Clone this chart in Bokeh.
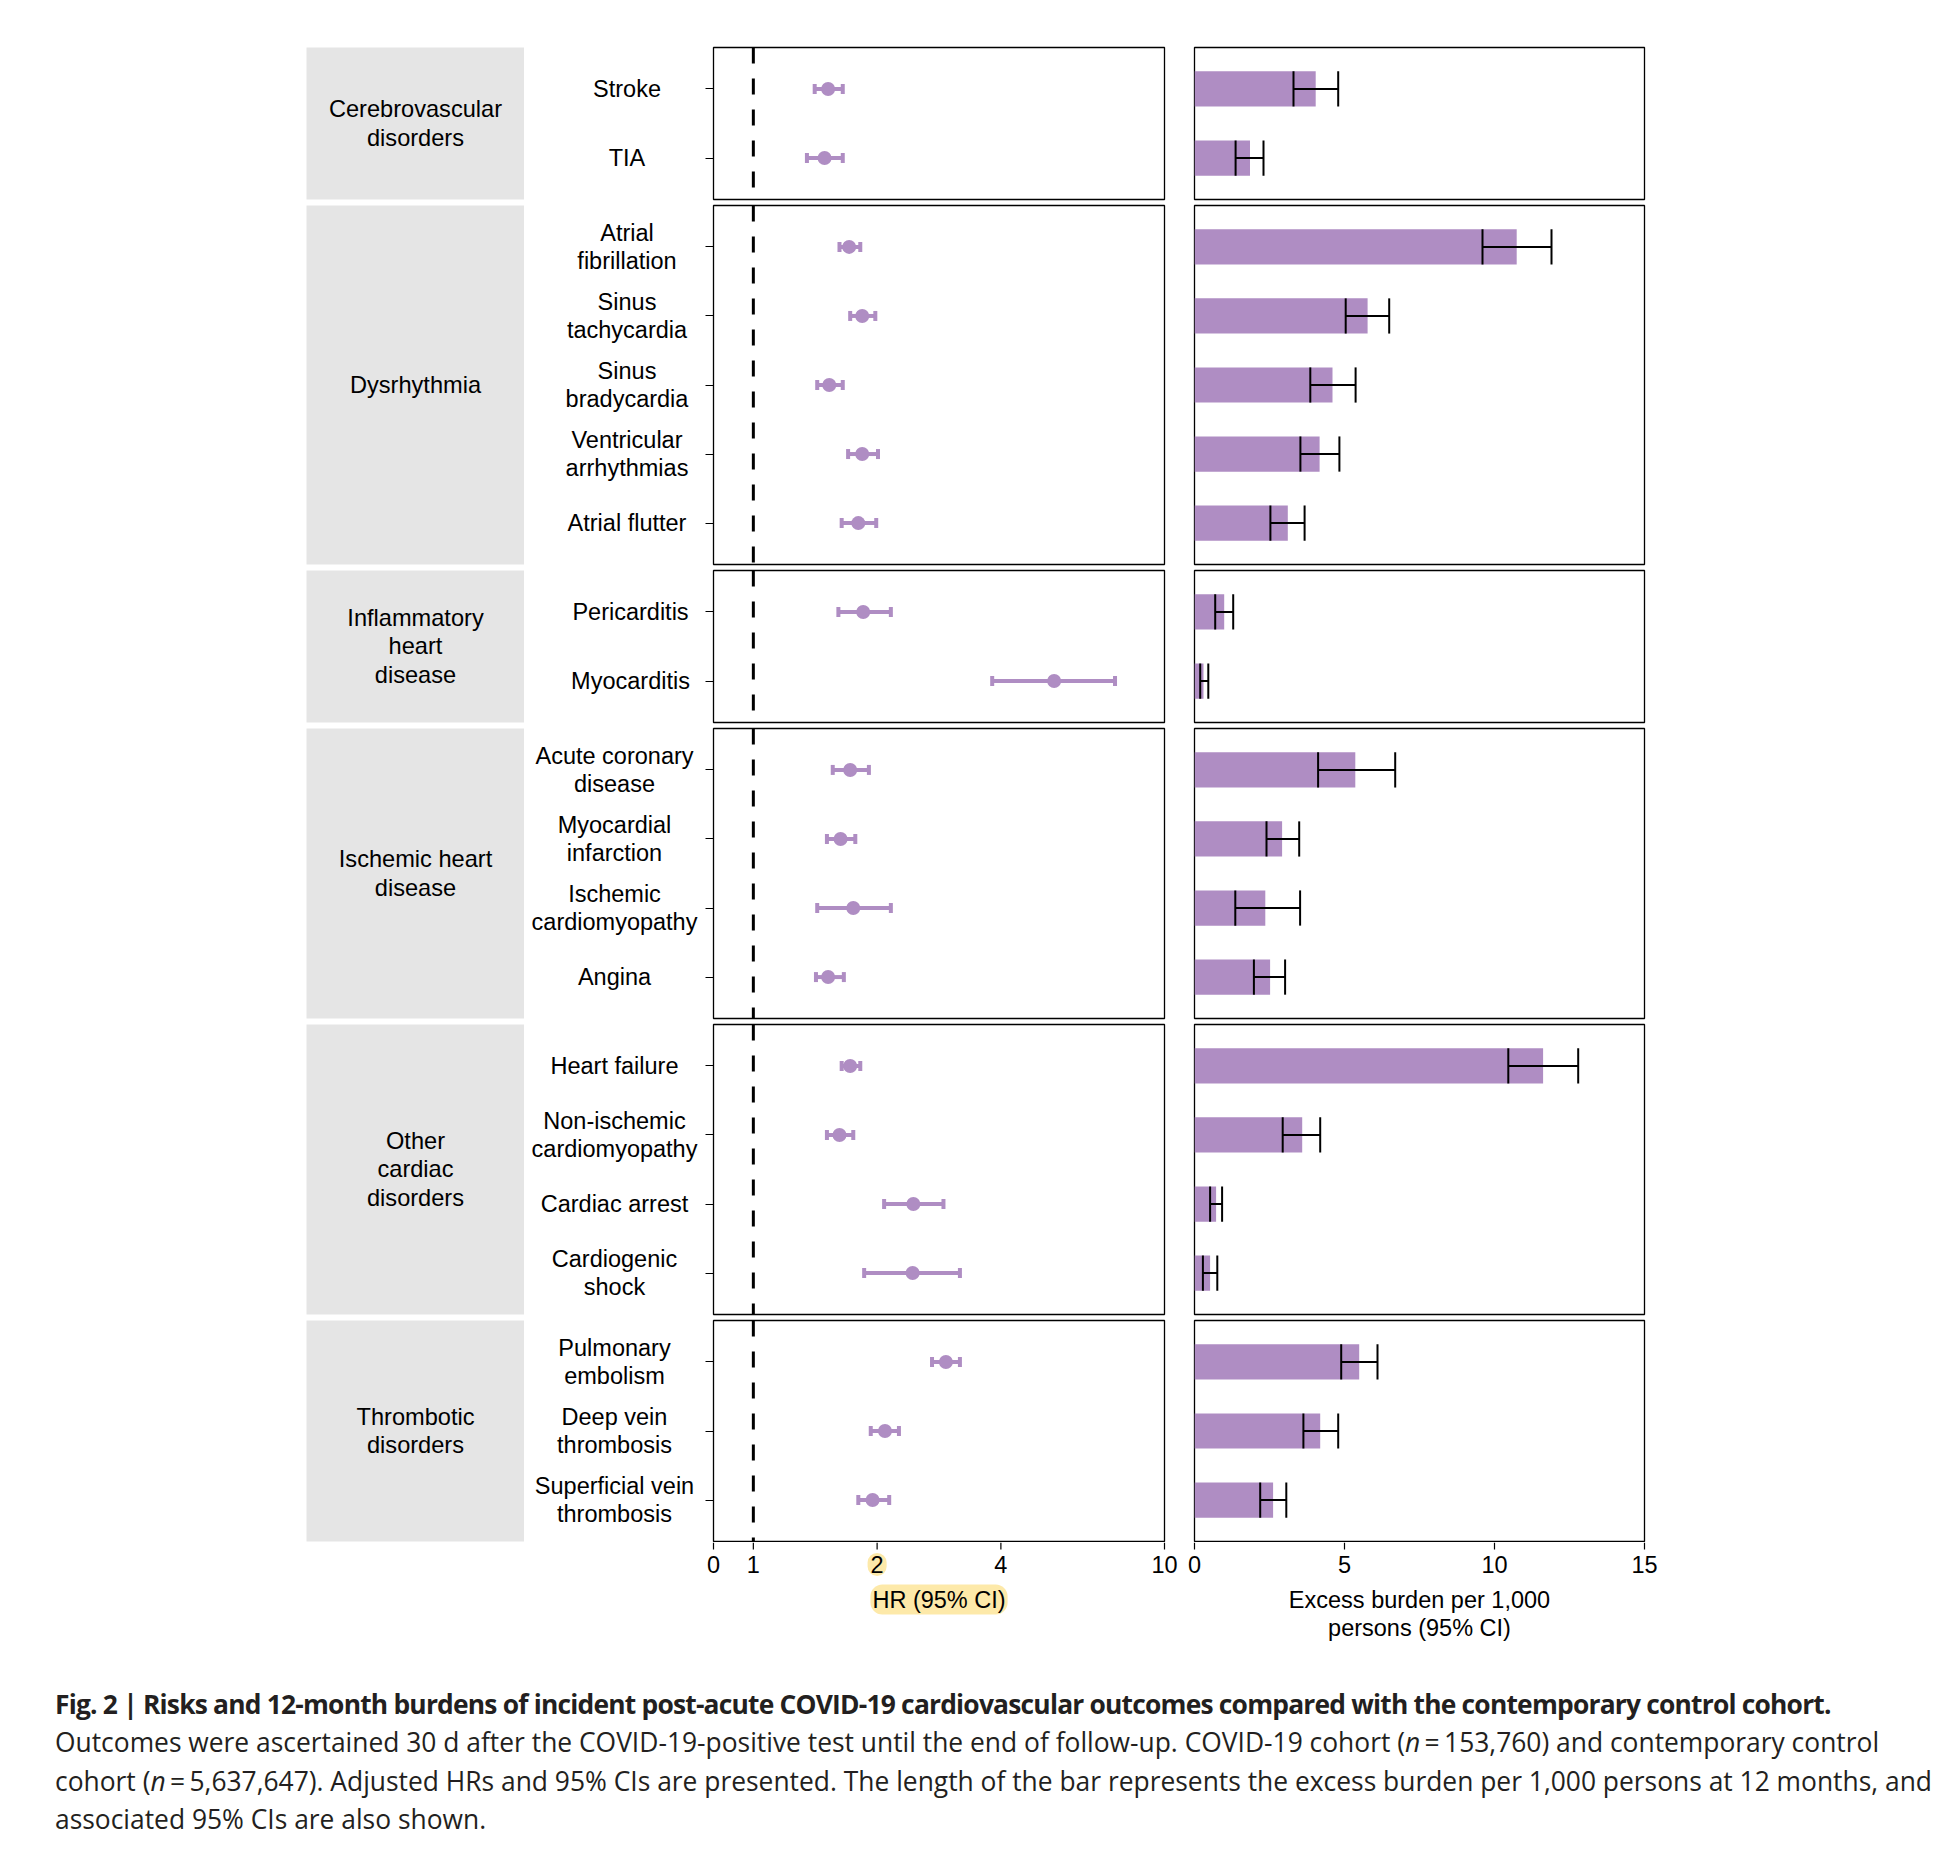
from math import sqrt, log2
from bokeh.plotting import figure
from bokeh.models import (Range1d, FixedTicker, CustomJSTickFormatter, Span, Label,
                          Div, Spacer, ColumnDataSource, LinearScale)
from bokeh.layouts import row, column
from bokeh.core.properties import value
from bokeh.embed import file_html
from bokeh.resources import INLINE

# ---------------- data ----------------
group_names = ["Cerebrovascular\ndisorders", "Dysrhythmia", "Inflammatory\nheart\ndisease",
               "Ischemic heart\ndisease", "Other\ncardiac\ndisorders", "Thrombotic\ndisorders"]
group_sizes = [2, 5, 2, 4, 4, 3]

outcome_names = ["Stroke", "TIA",
                 "Atrial\nfibrillation", "Sinus\ntachycardia", "Sinus\nbradycardia",
                 "Ventricular\narrhythmias", "Atrial flutter",
                 "Pericarditis", "Myocarditis",
                 "Acute coronary\ndisease", "Myocardial\ninfarction", "Ischemic\ncardiomyopathy", "Angina",
                 "Heart failure", "Non-ischemic\ncardiomyopathy", "Cardiac arrest", "Cardiogenic\nshock",
                 "Pulmonary\nembolism", "Deep vein\nthrombosis", "Superficial vein\nthrombosis"]

hr_est = [1.52, 1.49, 1.71, 1.84, 1.53, 1.84, 1.80, 1.85, 5.39, 1.72, 1.63, 1.75, 1.52,
          1.72, 1.62, 2.45, 2.44, 2.94, 2.09, 1.95]
hr_low = [1.41, 1.35, 1.62, 1.72, 1.43, 1.70, 1.64, 1.61, 3.81, 1.56, 1.51, 1.43, 1.42,
          1.64, 1.51, 2.08, 1.86, 2.72, 1.93, 1.80]
hr_high = [1.65, 1.65, 1.82, 1.98, 1.65, 2.01, 1.99, 2.16, 7.58, 1.91, 1.77, 2.16, 1.66,
           1.82, 1.75, 2.90, 3.18, 3.18, 2.26, 2.14]

burden_est = [4.04, 1.85, 10.74, 5.77, 4.60, 4.17, 3.11, 0.99, 0.30, 5.36, 2.92, 2.36, 2.52,
              11.62, 3.59, 0.72, 0.52, 5.49, 4.19, 2.62]
burden_low = [3.30, 1.37, 9.60, 5.04, 3.86, 3.53, 2.53, 0.69, 0.19, 4.12, 2.40, 1.36, 1.98,
              10.46, 2.94, 0.52, 0.28, 4.89, 3.63, 2.19]
burden_high = [4.79, 2.30, 11.90, 6.49, 5.37, 4.83, 3.67, 1.29, 0.46, 6.69, 3.49, 3.52, 3.02,
               12.79, 4.19, 0.92, 0.76, 6.10, 4.79, 3.06]

hr_tick_values = [0.8, 1, 2, 4, 10]
hr_tick_labels = ["0", "1", "2", "4", "10"]
hr_highlight_tick = 2
burden_tick_values = [0, 5, 10, 15]
burden_tick_labels = ["0", "5", "10", "15"]
hr_axis_title = "HR (95% CI)"
burden_axis_title = "Excess burden per 1,000\npersons (95% CI)"

caption_title = ("Fig. 2 | Risks and 12-month burdens of incident post-acute COVID-19 "
                 "cardiovascular outcomes compared with the contemporary control cohort.")
caption_lines = [
    "Outcomes were ascertained 30\u00a0d after the COVID-19-positive test until the end of follow-up. "
    "COVID-19 cohort (<i>n</i>\u2009=\u2009153,760) and contemporary control",
    "cohort (<i>n</i>\u2009=\u20095,637,647). Adjusted HRs and 95% CIs are presented. The length of the bar "
    "represents the excess burden per 1,000 persons at 12 months, and",
    "associated 95% CIs are also shown.",
]

# ---------------- style / layout ----------------
PURPLE = "#af8dc3"
GREY = "#e5e5e5"
YELLOW = "#fde9a9"
FONT = "Liberation Sans"
FS = "23.5px"
LINE_H = 1.1
UNIT = 69.0            # px per row
LEFT_PAD = 306
GREY_W = 218
LABEL_W = 179
HR_W, HR_BL, HR_BR = 451, 10, 15
BU_W, BU_BL, BU_BR = 450, 15, 15
HR_LO, HR_HI = 0.8, 10
BU_LO, BU_HI = 0, 15
STRIP_H = 100
label_centers = [102.5, 102.5, 106, 90, 90, 90]


def base_fig(**kw):
    p = figure(toolbar_location=None, output_backend="svg", title=None, **kw)
    p.border_fill_color = "white"
    p.background_fill_color = "white"
    p.grid.visible = False
    return p


rows = [Spacer(width=10, height=44)]
start = 0
ngroups = len(group_sizes)
for gi, (gname, n) in enumerate(zip(group_names, group_sizes)):
    idx = list(range(start, start + n))
    start += n
    last = gi == ngroups - 1
    ys = list(range(1, n + 1))
    fh = int(round((n + 0.2) * UNIT))
    bt, bb = 3, (1 if last else 3)

    src = ColumnDataSource(dict(
        y=ys,
        name=[outcome_names[i] for i in idx],
        hr=[hr_est[i] for i in idx],
        lo=[hr_low[i] for i in idx],
        hi=[hr_high[i] for i in idx],
        b=[burden_est[i] for i in idx],
        blo=[burden_low[i] for i in idx],
        bhi=[burden_high[i] for i in idx],
        yb0=[y - 0.255 for y in ys],
        yb1=[y + 0.255 for y in ys],
    ))

    # grey group box
    g = base_fig(frame_width=GREY_W, frame_height=fh, x_range=Range1d(0, 1),
                 y_range=Range1d(n + 0.6, 0.4), x_axis_location=None, y_axis_location=None,
                 min_border_left=0, min_border_right=0, min_border_top=bt, min_border_bottom=bb)
    g.background_fill_color = GREY
    g.outline_line_color = None
    g.text(x=[0.5], y=[(n + 1) / 2], text=[gname], text_align="center", text_baseline="middle",
           text_font=value(FONT), text_font_size=value("23.6px"), text_color="black",
           text_line_height=LINE_H)

    # outcome labels
    lab = base_fig(frame_width=LABEL_W, frame_height=fh, x_range=Range1d(0, LABEL_W),
                   y_range=Range1d(n + 0.6, 0.4), x_axis_location=None, y_axis_location=None,
                   min_border_left=0, min_border_right=0, min_border_top=bt, min_border_bottom=bb)
    lab.outline_line_color = None
    lab.text(x=label_centers[gi], y="y", text="name", source=src, text_align="center",
             text_baseline="middle", text_font=value(FONT), text_font_size=value(FS),
             text_color="black", text_line_height=LINE_H)

    # HR panel
    h = base_fig(frame_width=HR_W, frame_height=fh, x_axis_type="log",
                 x_range=Range1d(HR_LO, HR_HI),
                 y_range=Range1d(n + 0.6, 0.4), x_axis_location=None, y_axis_location="left",
                 min_border_left=HR_BL, min_border_right=HR_BR, min_border_top=bt,
                 min_border_bottom=bb)
    h.outline_line_color = "black"
    h.outline_line_width = 1.3
    ya = h.yaxis[0]
    ya.ticker = FixedTicker(ticks=ys)
    ya.formatter = CustomJSTickFormatter(code="return '';")
    ya.major_tick_out = 8
    ya.major_tick_in = 0
    ya.minor_tick_out = 0
    ya.minor_tick_in = 0
    ya.major_tick_line_width = 1
    ya.axis_line_color = None
    ya.major_label_standoff = 0
    h.add_layout(Span(location=1, dimension="height", line_color="black", line_width=3,
                      line_dash="16 15"))
    h.segment(x0="lo", y0="y", x1="hi", y1="y", line_width=4, line_color=PURPLE, source=src)
    h.rect(x="lo", y="y", width=4, height=10, width_units="screen", height_units="screen",
           fill_color=PURPLE, line_color=None, source=src)
    h.rect(x="hi", y="y", width=4, height=10, width_units="screen", height_units="screen",
           fill_color=PURPLE, line_color=None, source=src)
    h.scatter(x="hr", y="y", size=14, fill_color=PURPLE, line_color=None, source=src)

    # burden panel
    b = base_fig(frame_width=BU_W, frame_height=fh, x_range=Range1d(BU_LO, BU_HI),
                 y_range=Range1d(n + 0.6, 0.4), x_axis_location=None, y_axis_location=None,
                 min_border_left=BU_BL, min_border_right=BU_BR, min_border_top=bt,
                 min_border_bottom=bb)
    b.outline_line_color = "black"
    b.outline_line_width = 1.3
    b.hbar(y="y", left=0, right="b", height=0.51, fill_color=PURPLE, line_color=None, source=src)
    b.segment(x0="blo", y0="y", x1="bhi", y1="y", line_width=2, line_color="black", source=src)
    b.segment(x0="blo", y0="yb0", x1="blo", y1="yb1", line_width=2, line_color="black", source=src)
    b.segment(x0="bhi", y0="yb0", x1="bhi", y1="yb1", line_width=2, line_color="black", source=src)

    rows.append(row(children=[Spacer(width=LEFT_PAD, height=10), g, lab, h, b], spacing=0))

# ---- one axis strip below the last row: ticks, tick labels and titles of both panels ----
strip_left = LEFT_PAD + GREY_W + LABEL_W            # left edge of the HR figure
strip_w = HR_BL + HR_W + HR_BR + BU_BL + BU_W + BU_BR
pxd = HR_W / log2(HR_HI / HR_LO)                    # px per doubling on the HR scale
hr_lo_ext = HR_LO * 2 ** (-HR_BL / pxd)
hr_hi_ext = hr_lo_ext * 2 ** (strip_w / pxd)
upx = BU_W / (BU_HI - BU_LO)                        # px per burden unit
bu_off = HR_BL + HR_W + HR_BR + BU_BL               # px from strip left to burden zero
bu_lo_ext = BU_LO - bu_off / upx
bu_hi_ext = bu_lo_ext + strip_w / upx

s = base_fig(frame_width=strip_w, frame_height=STRIP_H, x_axis_type="log",
             x_range=Range1d(hr_lo_ext, hr_hi_ext), y_range=Range1d(STRIP_H, 0),
             x_axis_location=None, y_axis_location=None,
             min_border_left=0, min_border_right=0, min_border_top=0, min_border_bottom=0)
s.extra_x_ranges = {"bu": Range1d(bu_lo_ext, bu_hi_ext)}
s.extra_x_scales = {"bu": LinearScale()}
s.outline_line_color = None

# HR axis
s.segment(x0=hr_tick_values, y0=0, x1=hr_tick_values, y1=7, line_color="black",
          line_width=1.2)
plain = [(v, t) for v, t in zip(hr_tick_values, hr_tick_labels) if v != hr_highlight_tick]
s.text(x=[v for v, _ in plain], y=22, text=[t for _, t in plain], text_align="center",
       text_baseline="middle", text_font=value(FONT), text_font_size=value(FS),
       text_color="black")
s.add_layout(Label(x=hr_highlight_tick, y=22,
                   text=hr_tick_labels[hr_tick_values.index(hr_highlight_tick)],
                   text_align="center", text_baseline="middle", text_font=FONT,
                   text_font_size=FS, text_color="black",
                   background_fill_color=YELLOW, padding=3, border_radius=10))
s.add_layout(Label(x=sqrt(HR_LO * HR_HI), y=57, text=hr_axis_title,
                   text_align="center", text_baseline="middle", text_font=FONT,
                   text_font_size=FS, text_color="black",
                   background_fill_color=YELLOW, padding=2, border_radius=12))

# burden axis
s.segment(x0=burden_tick_values, y0=0, x1=burden_tick_values, y1=7, line_color="black",
          line_width=1.2, x_range_name="bu")
s.text(x=burden_tick_values, y=22, text=burden_tick_labels, text_align="center",
       text_baseline="middle", text_font=value(FONT), text_font_size=value(FS),
       text_color="black", x_range_name="bu")
s.text(x=[(BU_LO + BU_HI) / 2], y=[71.5], text=[burden_axis_title], text_align="center",
       text_baseline="middle", text_font=value(FONT), text_font_size=value(FS),
       text_color="black", text_line_height=LINE_H, x_range_name="bu")

rows.append(row(children=[Spacer(width=strip_left, height=10), s], spacing=0))

caption_html = (
    '<div style="font-family:\'Open Sans\';font-size:26.4px;line-height:38.3px;color:#231f20;'
    'white-space:nowrap;padding-top:38px;padding-left:50px;">'
    '<b style="letter-spacing:-0.8px;">' + caption_title + '</b><br>'
    + '<br>'.join(caption_lines) + '</div>'
)
caption = Div(text=caption_html, width=1940, height=196)
rows.append(caption)

layout = column(children=rows, spacing=0)

with open("out.html", "w") as f:
    f.write(file_html(layout, INLINE))
